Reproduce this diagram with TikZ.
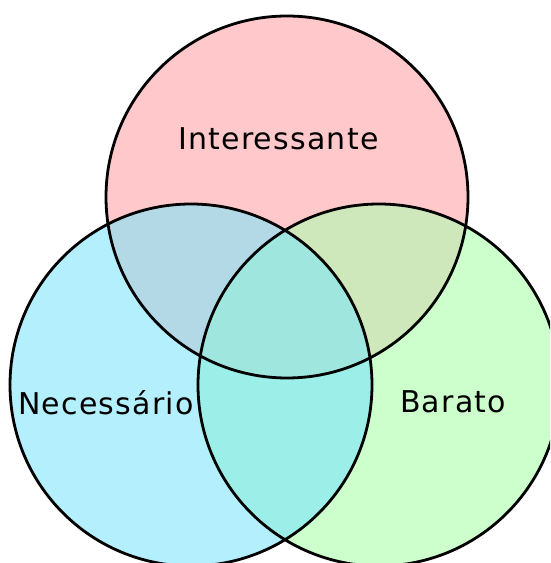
\documentclass[tikz,border=0pt]{standalone}
\usepackage{fontspec}
\setmainfont[LetterSpace=4]{DejaVu Sans}
\begin{document}
\begin{tikzpicture}[x=1pt,y=1pt,
  lbl/.style={font=\fontsize{30}{34}\selectfont, inner sep=0pt, anchor=base west},
  ring/.style={draw=black, line width=2.8pt}]
\useasboundingbox (0,0) rectangle (550,563);
\def\R{181}
\coordinate (ct) at (287,366);
\coordinate (cl) at (191,178);
\coordinate (cr) at (379,178);
\begin{scope}
\clip (0,0) rectangle (550,563);
% single regions
\fill[color={rgb,255:red,255;green,200;blue,202}] (ct) circle (\R);
\fill[color={rgb,255:red,179;green,239;blue,253}] (cl) circle (\R);
\fill[color={rgb,255:red,204;green,255;blue,204}] (cr) circle (\R);
% pairwise
\begin{scope}\clip (ct) circle (\R);
  \fill[color={rgb,255:red,179;green,217;blue,230}] (cl) circle (\R);
  \fill[color={rgb,255:red,207;green,232;blue,187}] (cr) circle (\R);
\end{scope}
\begin{scope}\clip (cl) circle (\R);
  \fill[color={rgb,255:red,156;green,238;blue,232}] (cr) circle (\R);
  \begin{scope}\clip (ct) circle (\R);
    \fill[color={rgb,255:red,158;green,230;blue,222}] (cr) circle (\R);
  \end{scope}
\end{scope}
\draw[ring] (ct) circle (\R);
\draw[ring] (cl) circle (\R);
\draw[ring] (cr) circle (\R);
\end{scope}
\node[lbl] (ti) at (178,413) {Interessante};
\node[lbl] (tn) at (18,148) {Necessário};
\node[lbl] (tb) at (400,150) {Barato};
\end{tikzpicture}
\end{document}
